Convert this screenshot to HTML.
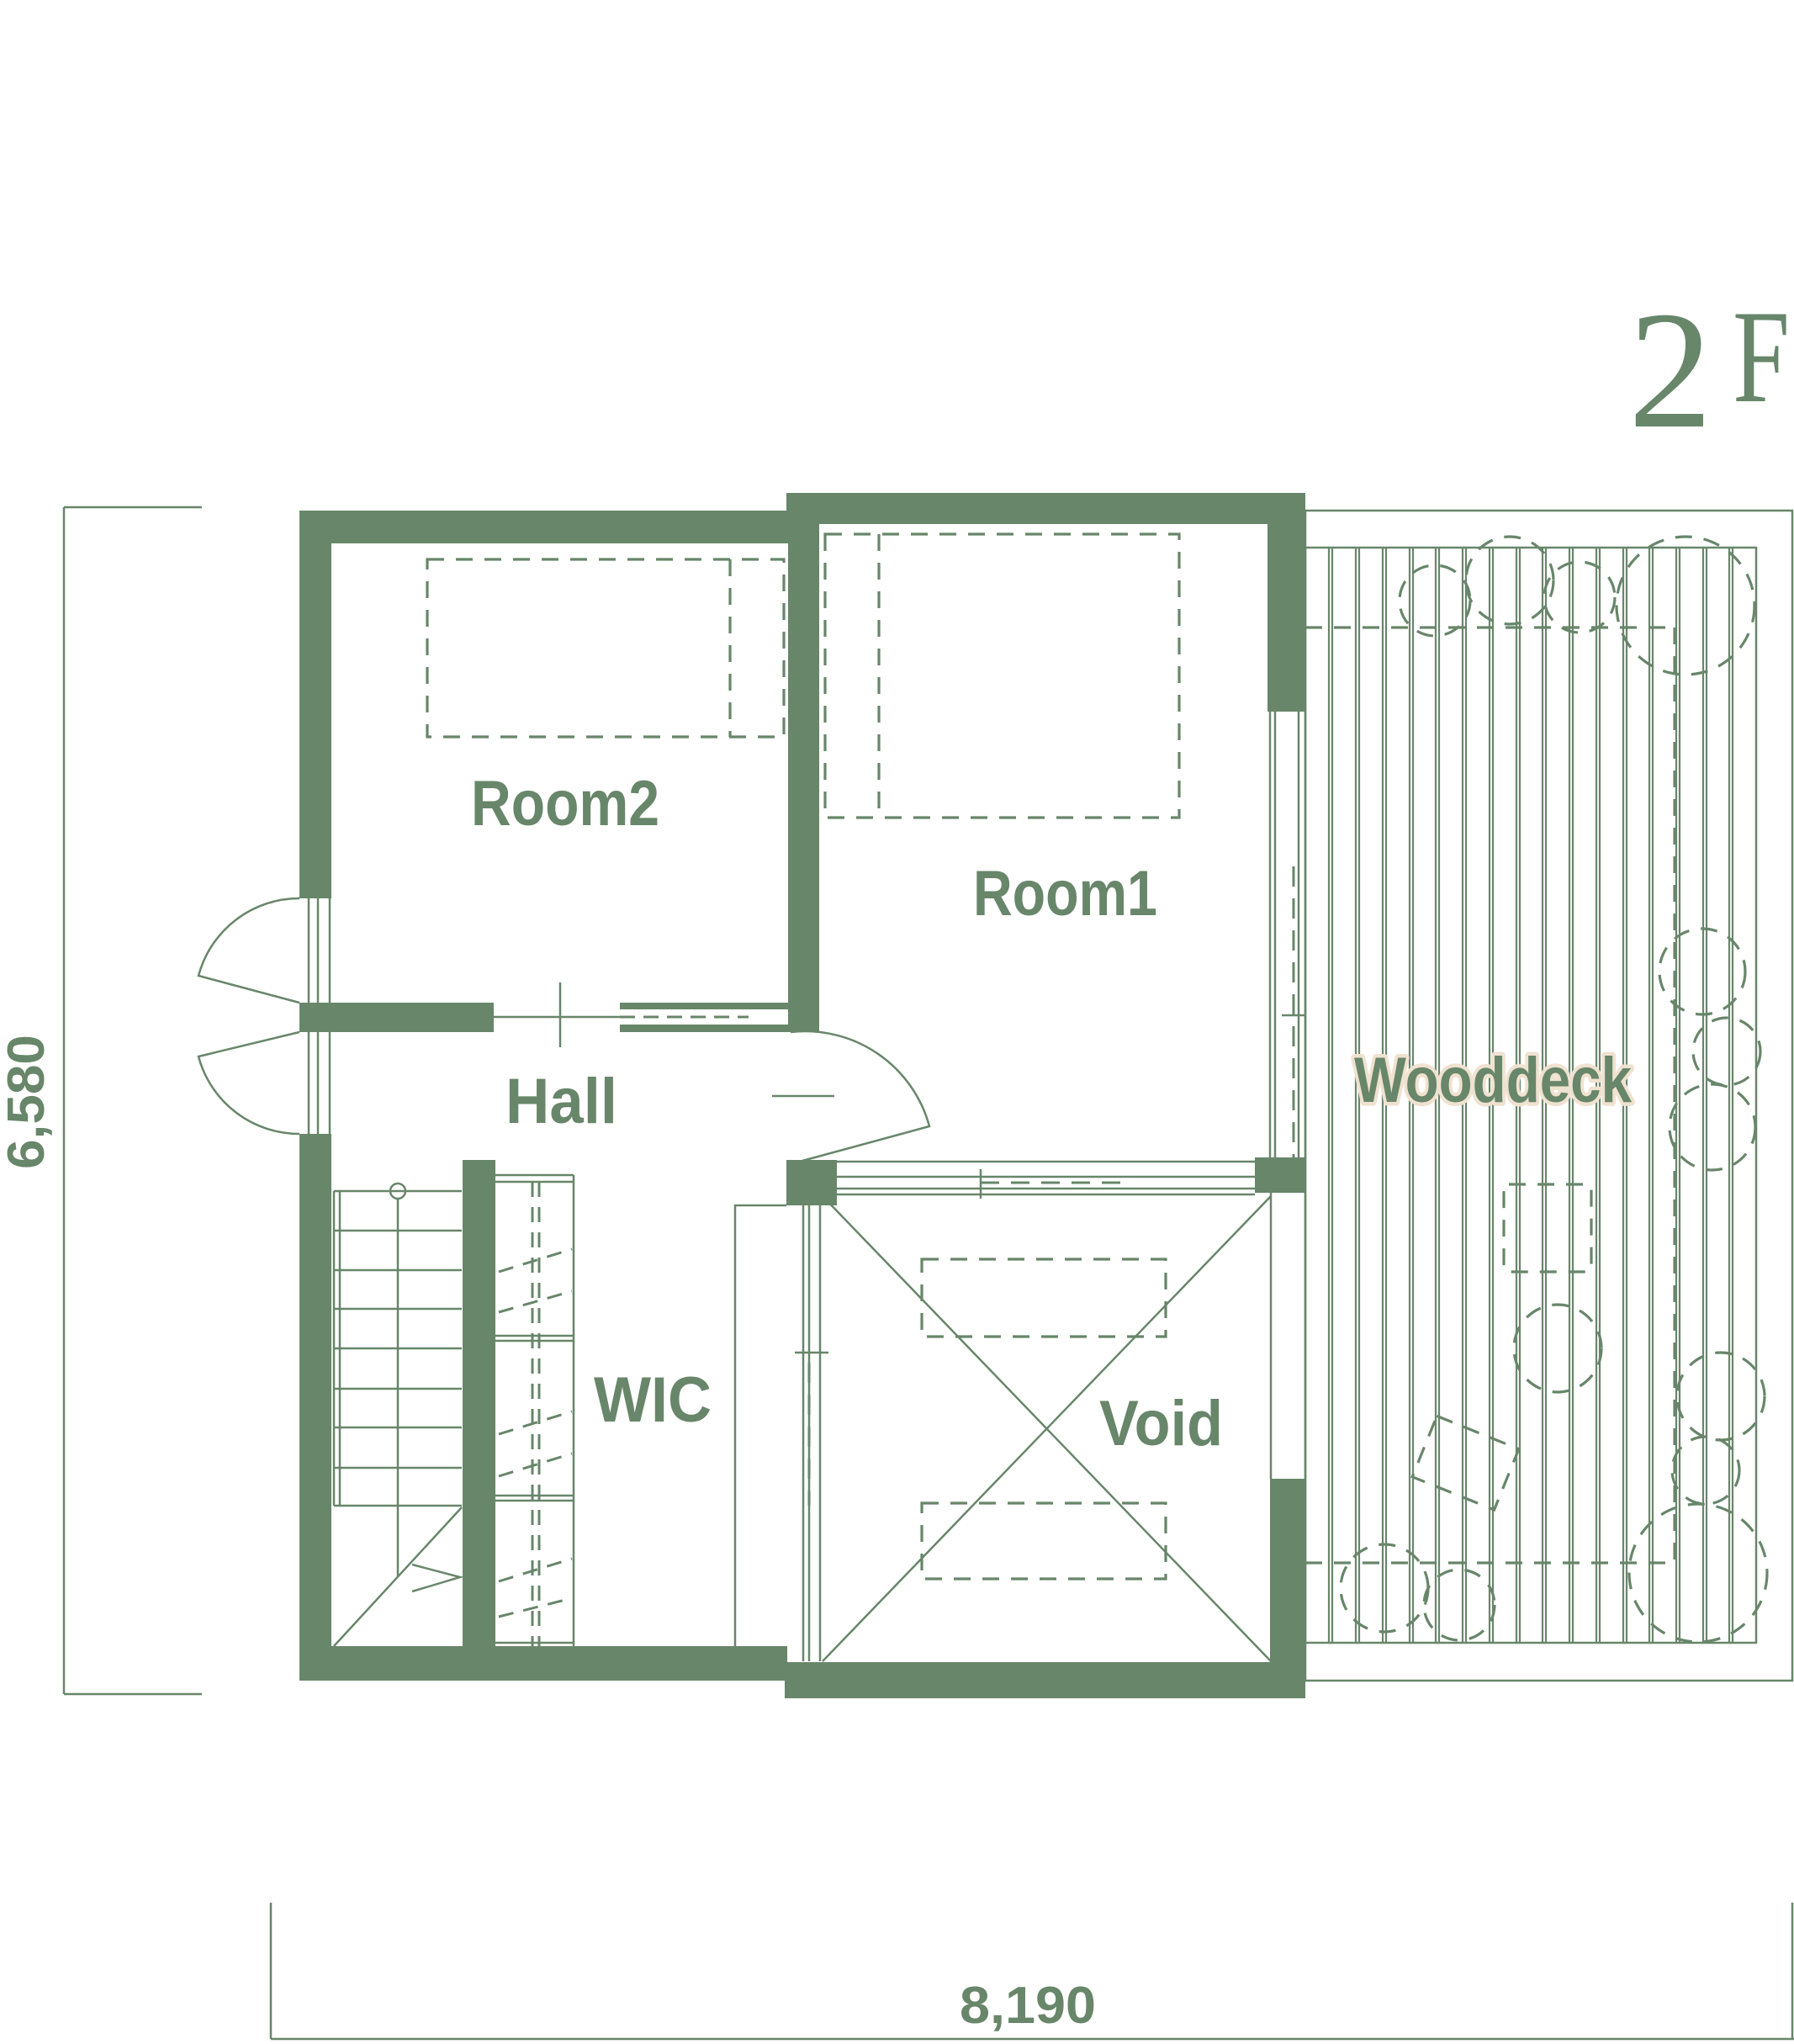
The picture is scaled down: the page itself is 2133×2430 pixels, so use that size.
<!DOCTYPE html>
<html><head><meta charset="utf-8"><style>
html,body{margin:0;padding:0;background:#fff;}
svg{display:block;}
.t{font-family:"Liberation Sans Narrow","Liberation Sans",sans-serif;font-weight:bold;fill:#68866a;}
</style></head><body>
<svg width="2133" height="2430" viewBox="0 0 2133 2430" xmlns="http://www.w3.org/2000/svg">
<g fill="none" stroke="#68866a" stroke-width="2.5">
<!-- dimension lines -->
<line x1="76" y1="603" x2="76" y2="2014"/>
<line x1="76" y1="603" x2="240" y2="603"/>
<line x1="76" y1="2014" x2="240" y2="2014"/>
<line x1="322" y1="2262" x2="322" y2="2424"/>
<line x1="322" y1="2424" x2="2133" y2="2424"/>
<line x1="2131" y1="2262" x2="2131" y2="2424"/>

<!-- deck -->
<rect x="1552" y="607" width="579" height="1391"/>
<rect x="1552" y="651" width="536" height="1302"/>
<g stroke-width="2.2">
<path d="M1580 651V1953M1584 651V1953M1612 651V1953M1616 651V1953M1644 651V1953M1648 651V1953M1676 651V1953M1680 651V1953M1707 651V1953M1711 651V1953M1739 651V1953M1743 651V1953M1771 651V1953M1775 651V1953M1803 651V1953M1807 651V1953M1834 651V1953M1838 651V1953M1866 651V1953M1870 651V1953M1898 651V1953M1902 651V1953M1930 651V1953M1934 651V1953M1961 651V1953M1965 651V1953M1993 651V1953M1997 651V1953M2025 651V1953M2029 651V1953M2056 651V1953M2060 651V1953"/>
</g>
<g stroke-dasharray="20 14" stroke-width="3.2">
<line x1="1552" y1="746" x2="1993" y2="746"/>
<line x1="1552" y1="1858" x2="1993" y2="1858"/>
<line x1="1991" y1="746" x2="1991" y2="1858"/>
<circle cx="1706" cy="714" r="42"/>
<circle cx="1795" cy="690" r="52"/>
<circle cx="1878" cy="710" r="42"/>
<circle cx="2004" cy="720" r="82"/>
<circle cx="2024" cy="1155" r="51"/>
<circle cx="2053" cy="1250" r="40"/>
<circle cx="2036" cy="1340" r="51"/>
<circle cx="1852" cy="1603" r="52"/>
<circle cx="2046" cy="1660" r="52"/>
<circle cx="2028" cy="1748" r="40"/>
<circle cx="2019" cy="1870" r="82"/>
<circle cx="1646" cy="1888" r="52"/>
<circle cx="1735" cy="1908" r="42"/>
<rect x="1788" y="1408" width="104" height="104" rx="6"/>
<rect x="1690" y="1700" width="105" height="78" transform="rotate(22 1742 1739)"/>
</g>

<g stroke-dasharray="20 14" stroke-width="3.2">
<rect x="508" y="665" width="424" height="211"/>
<line x1="868" y1="665" x2="868" y2="876"/>
<rect x="981" y="635" width="421" height="337"/>
<line x1="1045" y1="635" x2="1045" y2="972"/>
<rect x="1096" y="1497" width="290" height="92"/>
<rect x="1096" y="1787" width="290" height="90"/>
</g>
<!-- void X -->
<line x1="978" y1="1422" x2="1511" y2="1975"/>
<line x1="1511" y1="1422" x2="978" y2="1975"/>
<!-- void window top -->
<line x1="995" y1="1381" x2="1492" y2="1381"/>
<line x1="995" y1="1399" x2="1492" y2="1399"/>
<line x1="995" y1="1413" x2="1492" y2="1413"/>
<line x1="995" y1="1420" x2="1492" y2="1420"/>
<line x1="1166" y1="1390" x2="1166" y2="1425"/>
<line x1="1166" y1="1406" x2="1342" y2="1406" stroke-dasharray="22 14" stroke-width="3"/>
<!-- void left window -->
<line x1="955" y1="1433" x2="955" y2="1975"/>
<line x1="962" y1="1433" x2="962" y2="1975"/>
<line x1="975" y1="1433" x2="975" y2="1975"/>
<line x1="945" y1="1608" x2="985" y2="1608"/>
<line x1="962" y1="1620" x2="962" y2="1790" stroke-dasharray="24 14" stroke-width="3"/>
<!-- closet -->
<polyline points="935,1433 874,1433 874,1957"/>
<!-- void right -->
<line x1="1511" y1="1416" x2="1511" y2="1758"/>
<!-- room1 right window -->
<line x1="1510" y1="846" x2="1510" y2="1376"/>
<line x1="1516" y1="846" x2="1516" y2="1376"/>
<line x1="1544" y1="846" x2="1544" y2="1376"/>
<line x1="1538" y1="1030" x2="1538" y2="1376" stroke-dasharray="24 14" stroke-width="3"/>
<line x1="1524" y1="1207" x2="1552" y2="1207"/>
<!-- left doors -->
<path d="M356 1192 L236 1160 A124 124 0 0 1 356 1068"/>
<path d="M356 1227 L236 1256 A124 124 0 0 0 356 1348"/>
<line x1="367" y1="1068" x2="367" y2="1348"/>
<line x1="378" y1="1068" x2="378" y2="1348"/>
<line x1="392" y1="1068" x2="392" y2="1348"/>
<!-- room2 sliding -->
<line x1="587" y1="1209" x2="737" y2="1209"/>
<line x1="666" y1="1168" x2="666" y2="1245"/>
<line x1="737" y1="1209" x2="890" y2="1209" stroke-dasharray="18 10" stroke-width="3"/>
<!-- room1 door -->
<path d="M954 1380 L1105 1339 A153 153 0 0 0 940 1227"/>
<line x1="918" y1="1303" x2="992" y2="1303"/>
<!-- stairs -->
<line x1="397" y1="1416" x2="397" y2="1790"/>
<line x1="404" y1="1416" x2="404" y2="1790"/>
<path d="M397 1416H549M397 1463H549M397 1510H549M397 1556H549M397 1603H549M397 1651H549M397 1697H549M397 1745H549M397 1790H549"/>
<line x1="473" y1="1424" x2="473" y2="1875"/>
<circle cx="473" cy="1416" r="9"/>
<line x1="397" y1="1957" x2="549" y2="1792"/>
<polyline points="490,1860 547,1875 490,1892"/>
<!-- WIC shelves -->
<line x1="589" y1="1397" x2="682" y2="1397"/>
<line x1="589" y1="1405" x2="682" y2="1405"/>
<line x1="682" y1="1397" x2="682" y2="1957"/>
<line x1="589" y1="1588" x2="682" y2="1588"/>
<line x1="589" y1="1594" x2="682" y2="1594"/>
<line x1="589" y1="1778" x2="682" y2="1778"/>
<line x1="589" y1="1784" x2="682" y2="1784"/>
<line x1="589" y1="1953" x2="682" y2="1953"/>
<g stroke-dasharray="18 12" stroke-width="3">
<line x1="633" y1="1405" x2="633" y2="1957"/>
<line x1="641" y1="1405" x2="641" y2="1957"/>
<path d="M593 1512L680 1485M593 1560L680 1535M593 1705L680 1678M593 1755L680 1728M593 1880L680 1853M593 1922L680 1900"/>
</g>
</g>

<!-- walls -->
<g fill="#68866a">
<rect x="356" y="607" width="583" height="39"/>
<rect x="356" y="607" width="38" height="461"/>
<rect x="356" y="1348" width="38" height="650"/>
<rect x="356" y="1192" width="231" height="35"/>
<rect x="737" y="1192" width="203" height="8"/>
<rect x="737" y="1218" width="203" height="9"/>
<rect x="935" y="586" width="617" height="37"/>
<rect x="937" y="586" width="37" height="641"/>
<rect x="1507" y="586" width="45" height="260"/>
<rect x="1492" y="1376" width="60" height="42"/>
<rect x="1510" y="1758" width="42" height="255"/>
<rect x="935" y="1379" width="60" height="54"/>
<rect x="550" y="1379" width="39" height="619"/>
<rect x="356" y="1957" width="580" height="41"/>
<rect x="933" y="1976" width="619" height="43"/>
</g>

<!-- labels -->
<text class="t" x="560" y="981" font-size="76" textLength="224" lengthAdjust="spacingAndGlyphs">Room2</text>
<text class="t" x="1157" y="1088" font-size="76" textLength="219" lengthAdjust="spacingAndGlyphs">Room1</text>
<text class="t" x="601" y="1335" font-size="76" textLength="133" lengthAdjust="spacingAndGlyphs">Hall</text>
<text class="t" x="706" y="1690" font-size="76" textLength="140" lengthAdjust="spacingAndGlyphs">WIC</text>
<text class="t" x="1307" y="1718" font-size="76" textLength="147" lengthAdjust="spacingAndGlyphs">Void</text>
<text class="t" x="1610" y="1310" font-size="76" textLength="330" lengthAdjust="spacingAndGlyphs" stroke="#f0e2d0" stroke-width="9" paint-order="stroke" stroke-linejoin="round">Wooddeck</text>
<text class="t" x="1141" y="2405" font-size="62" textLength="162" lengthAdjust="spacingAndGlyphs">8,190</text>
<text class="t" transform="translate(52 1390) rotate(-90)" x="0" y="0" font-size="62" textLength="160" lengthAdjust="spacingAndGlyphs">6,580</text>
<text x="1936" y="507" font-family="Liberation Serif,serif" font-size="200" fill="#68866a" textLength="100" lengthAdjust="spacingAndGlyphs">2</text>
<text x="2060" y="477" font-family="Liberation Serif,serif" font-size="158" fill="#68866a" textLength="68" lengthAdjust="spacingAndGlyphs">F</text>
</svg>
</body></html>
